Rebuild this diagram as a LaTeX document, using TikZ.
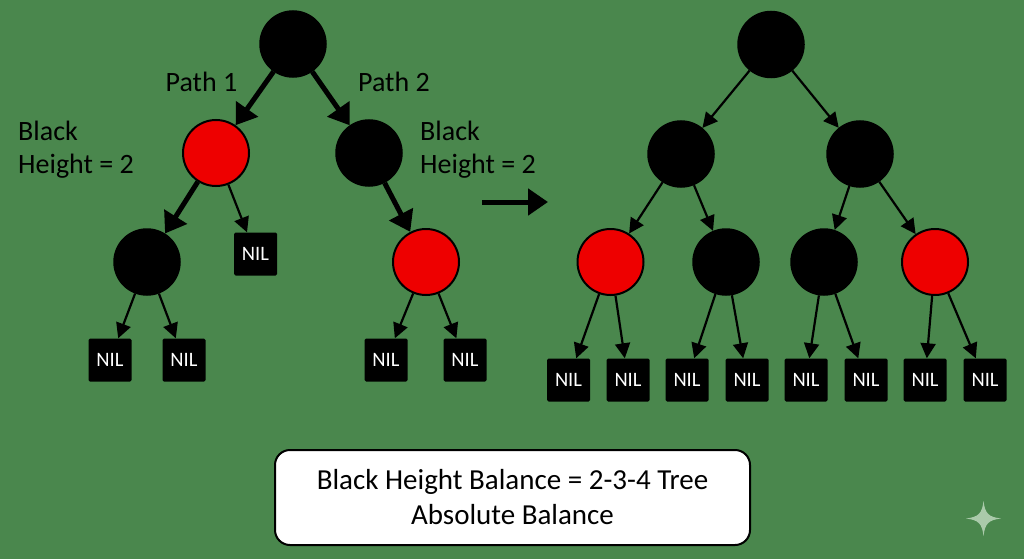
\documentclass[tikz,border=0pt]{standalone}
\usepackage{fontspec}
\setmainfont{Carlito}
\usetikzlibrary{arrows.meta}
\definecolor{bg}{RGB}{74,135,77}
\definecolor{rbred}{RGB}{238,0,0}
\definecolor{spark}{RGB}{170,202,170}
\begin{document}
\begin{tikzpicture}[x=1pt,y=-1pt,
  blknode/.style={circle,fill=black,draw=black,line width=1.5pt,minimum size=66pt,inner sep=0pt},
  rednode/.style={circle,fill=rbred,draw=black,line width=2pt,minimum size=66pt,inner sep=0pt},
  nil/.style={rectangle,fill=black,minimum size=43pt,inner sep=0pt,rounded corners=1.5pt,text=white,font=\fontsize{20.5}{20}\selectfont},
  thickedge/.style={line width=5pt,-{Triangle[length=20pt,width=26pt]}},
  thinedge/.style={line width=2.2pt,-{Triangle[length=15pt,width=15pt]}},
  lbl/.style={font=\fontsize{28}{33}\selectfont,text=black,align=left,inner sep=0pt},
  note/.style={draw=black,line width=2pt,fill=white,rounded corners=15pt,minimum width=475pt,minimum height=95pt,align=center,font=\fontsize{29}{35}\selectfont,inner sep=0pt}
]
\fill[bg] (0,0) rectangle (1024,559);
\useasboundingbox (0,0) rectangle (1024,559);

% left tree
\node[blknode] (L0) at (293,44) {};
\node[rednode] (L1a) at (216,153) {};
\node[blknode] (L1b) at (369,153) {};
\node[blknode] (L2a) at (147,262) {};
\node[nil] (L2n) at (255.5,254) {NIL};
\node[rednode] (L2b) at (426,262) {};
\node[nil] (La) at (110,360) {NIL};
\node[nil] (Lb) at (184,360) {NIL};
\node[nil] (Lc) at (386,360) {NIL};
\node[nil] (Ld) at (465,360) {NIL};

\draw[thickedge] (L0) -- (L1a);
\draw[thickedge] (L0) -- (L1b);
\draw[thickedge] (L1a) -- (L2a);
\draw[thickedge] (L1b) -- (L2b);
\draw[thinedge] (L1a) -- (L2n);
\draw[thinedge] (L2a) -- (La);
\draw[thinedge] (L2a) -- (Lb);
\draw[thinedge] (L2b) -- (Lc);
\draw[thinedge] (L2b) -- (Ld);

\node[lbl] (p1) at (201.5,82) {Path 1};
\node[lbl] (p2) at (394,82) {Path 2};
\node[lbl,anchor=west] (bh1) at (18,150) {Black\\Height = 2};
\node[lbl,anchor=west] (bh2) at (420,150) {Black\\Height = 2};

% transition arrow
\coordinate (a1) at (482,202);
\coordinate (a2) at (548,202);
\draw[thickedge] (a1) -- (a2);

% right tree
\node[blknode] (R0) at (771,44.5) {};
\node[blknode] (R1a) at (681,154) {};
\node[blknode] (R1b) at (860,154) {};
\node[rednode] (R2a) at (610.5,262) {};
\node[blknode] (R2b) at (726,262) {};
\node[blknode] (R2c) at (824,262) {};
\node[rednode] (R2d) at (935,262) {};
\node[nil] (N1) at (568.5,380) {NIL};
\node[nil] (N2) at (628,380) {NIL};
\node[nil] (N3) at (687,380) {NIL};
\node[nil] (N4) at (747,380) {NIL};
\node[nil] (N5) at (806,380) {NIL};
\node[nil] (N6) at (866,380) {NIL};
\node[nil] (N7) at (925,380) {NIL};
\node[nil] (N8) at (985,380) {NIL};

\draw[thinedge] (R0) -- (R1a);
\draw[thinedge] (R0) -- (R1b);
\draw[thinedge] (R1a) -- (R2a);
\draw[thinedge] (R1a) -- (R2b);
\draw[thinedge] (R1b) -- (R2c);
\draw[thinedge] (R1b) -- (R2d);
\draw[thinedge] (R2a) -- (N1);
\draw[thinedge] (R2a) -- (N2);
\draw[thinedge] (R2b) -- (N3);
\draw[thinedge] (R2b) -- (N4);
\draw[thinedge] (R2c) -- (N5);
\draw[thinedge] (R2c) -- (N6);
\draw[thinedge] (R2d) -- (N7);
\draw[thinedge] (R2d) -- (N8);

% bottom note
\node[note] (box) at (512.5,497.5) {Black Height Balance = 2-3-4 Tree\\Absolute Balance};

% sparkle mark
\begin{scope}[shift={(983.5,518.5)}]
\fill[spark] (0,-17.5) .. controls (1.5,-5) and (5,-1.5) .. (17.5,0)
  .. controls (5,1.5) and (1.5,5) .. (0,17.5)
  .. controls (-1.5,5) and (-5,1.5) .. (-17.5,0)
  .. controls (-5,-1.5) and (-1.5,-5) .. (0,-17.5) -- cycle;
\end{scope}
\end{tikzpicture}
\end{document}
